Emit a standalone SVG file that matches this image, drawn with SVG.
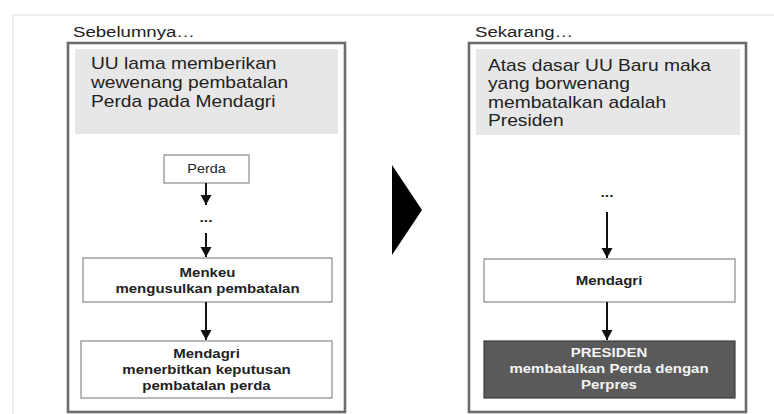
<svg xmlns="http://www.w3.org/2000/svg" width="774" height="414" viewBox="0 0 774 414">
<defs>
<style>
.frame{fill:none;stroke:#e2e2e2;stroke-width:1.2}
.outer{fill:#fff;stroke:#6c6c6c;stroke-width:2.6}
.head{fill:#e7e7e7;stroke:none}
.box{fill:#fff;stroke:#8a8a8a;stroke-width:1.2}
.dark{fill:#5a5a5a;stroke:#3c3c3c;stroke-width:1.2}
.t{font-family:"Liberation Sans",Arial,sans-serif;fill:#222}
.title{font-size:15.5px}
.hd{font-size:16px}
.sm{font-size:12px}
.dots{font-size:13px;font-weight:bold}
.b{font-size:12.5px;font-weight:bold;text-anchor:middle}
.w{fill:#f4f4f4}
.arr{stroke:#111;stroke-width:2;fill:none;marker-end:url(#ah)}
</style>
<marker id="ah" markerUnits="userSpaceOnUse" markerWidth="12" markerHeight="12" viewBox="0 0 12 12" refX="10" refY="6" orient="auto">
<path d="M0,0.5 L10,6 L0,11.5 Z" fill="#111"/>
</marker>
</defs>
<polyline class="frame" points="13,414 13,15 774,15"/>

<g id="before">
<text class="t title" transform="translate(73,37) scale(1.2,1)">Sebelumnya…</text>
<rect class="outer" x="68" y="43" width="277" height="369"/>
<rect class="head" x="75" y="49" width="263" height="85"/>
<text class="t hd" transform="translate(91,69) scale(1.2,1)"><tspan x="0" y="0">UU lama memberikan</tspan><tspan x="0" y="19">wewenang pembatalan</tspan><tspan x="0" y="38">Perda pada Mendagri</tspan></text>
</g>
<g id="perda">
<rect class="box" x="164" y="155" width="85" height="28"/>
<text class="t sm" text-anchor="middle" transform="translate(206.5,173) scale(1.2,1)">Perda</text>
</g>
<g id="dots-left">
<text class="t dots" text-anchor="middle" transform="translate(206,222) scale(1.2,1)">...</text>
</g>
<g id="menkeu">
<rect class="box" x="83" y="258" width="249" height="44"/>
<text class="t b" transform="translate(207.5,277) scale(1.2,1)"><tspan x="0" y="0">Menkeu</tspan><tspan x="0" y="16">mengusulkan pembatalan</tspan></text>
</g>
<g id="mendagri-left">
<rect class="box" x="81" y="341" width="251" height="57"/>
<text class="t b" transform="translate(206.5,358) scale(1.2,1)"><tspan x="0" y="0">Mendagri</tspan><tspan x="0" y="16">menerbitkan keputusan</tspan><tspan x="0" y="32">pembatalan perda</tspan></text>
</g>

<g id="shift-arrow">
<polygon points="392,165 422,210 392,255" fill="#000"/>
</g>

<g id="after">
<text class="t title" transform="translate(475,37) scale(1.2,1)">Sekarang…</text>
<rect class="outer" x="469" y="43" width="277" height="369"/>
<rect class="head" x="476" y="49" width="264" height="86"/>
<text class="t hd" transform="translate(488,71) scale(1.2,1)"><tspan x="0" y="0">Atas dasar UU Baru maka</tspan><tspan x="0" y="18.5">yang borwenang</tspan><tspan x="0" y="37">membatalkan adalah</tspan><tspan x="0" y="55.5">Presiden</tspan></text>
</g>
<g id="dots-right">
<text class="t dots" text-anchor="middle" transform="translate(607,197) scale(1.2,1)">...</text>
</g>
<g id="mendagri-right">
<rect class="box" x="484" y="259" width="251" height="43"/>
<text class="t b" transform="translate(609,285) scale(1.2,1)">Mendagri</text>
</g>
<g id="presiden">
<rect class="dark" x="484" y="341" width="251" height="57"/>
<text class="t b w" transform="translate(609,357) scale(1.2,1)"><tspan x="0" y="0">PRESIDEN</tspan><tspan x="0" y="16">membatalkan Perda dengan</tspan><tspan x="0" y="32">Perpres</tspan></text>
</g>

<g id="connectors">
<line class="arr" x1="206" y1="183" x2="206" y2="205"/>
<line class="arr" x1="206" y1="233" x2="206" y2="257"/>
<line class="arr" x1="206" y1="302" x2="206" y2="340"/>
<line class="arr" x1="607" y1="212" x2="607" y2="258"/>
<line class="arr" x1="607" y1="302" x2="607" y2="340"/>
</g>
</svg>
